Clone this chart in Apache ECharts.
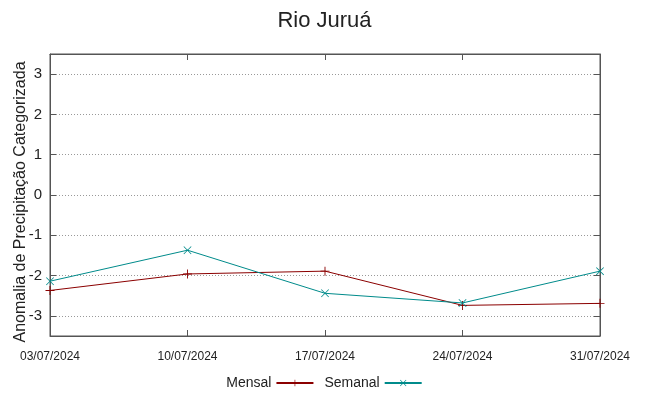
<!DOCTYPE html>
<html>
<head>
<meta charset="utf-8">
<script src="https://cdn.jsdelivr.net/npm/echarts@6/dist/echarts.min.js"></script>
<style>html,body{margin:0;padding:0;background:#fff;}#c{width:649px;height:396px;}</style>
</head>
<body>
<div id="c"></div>
<script>
const titleText = 'Rio Juruá';
const yName = 'Anomalia de Precipitação Categorizada';
const categories = ['03/07/2024', '10/07/2024', '17/07/2024', '24/07/2024', '31/07/2024'];
const mensal = [-2.37, -1.96, -1.89, -2.74, -2.69];
const semanal = [-2.14, -1.37, -2.44, -2.68, -1.89];
const yMin = -3.5;
const yMax = 3.5;

const plusPath = 'path://M4.5,0h1v4.5h4.5v1h-4.5v4.5h-1v-4.5h-4.5v-1h4.5z';
const crossPath = 'path://M0,0.7L0.7,0L5,4.3L9.3,0L10,0.7L5.7,5L10,9.3L9.3,10L5,5.7L0.7,10L0,9.3L4.3,5z';
const FONT = 'Liberation Sans';

const chart = echarts.init(document.getElementById('c'), null, {renderer: 'canvas'});
const yAxisBase = {
  type: 'value', min: yMin, max: yMax, splitNumber: 7,
  axisLine: {show: true, onZero: false, lineStyle: {color: '#555', width: 1}},
  axisTick: {show: true, inside: true, length: 6, lineStyle: {color: '#555'}},
};
chart.setOption({
  animation: false,
  backgroundColor: '#fff',
  textStyle: {fontFamily: FONT},
  title: {text: titleText, left: 'center', top: 5,
    textStyle: {fontFamily: FONT, fontSize: 22, fontWeight: 'normal', color: '#222'}},
  legend: {
    bottom: 1, left: 'center', align: 'right', itemWidth: 37, itemHeight: 8, itemGap: 10,
    textStyle: {fontFamily: FONT, fontSize: 14, color: '#222'},
    data: ['Mensal', 'Semanal']
  },
  grid: {left: 50, right: 49, top: 54, bottom: 60, show: true, borderColor: '#555', borderWidth: 1,
    backgroundColor: 'transparent', containLabel: false, outerBoundsMode: 'none'},
  xAxis: [{
    type: 'category', data: categories, boundaryGap: false,
    axisLine: {show: true, onZero: false, lineStyle: {color: '#555'}},
    axisTick: {show: true, inside: true, length: 6, alignWithLabel: true, lineStyle: {color: '#555'}},
    axisLabel: {fontFamily: FONT, fontSize: 12, color: '#222', margin: 15},
    splitLine: {show: false}
  }, {
    type: 'category', data: categories, boundaryGap: false, position: 'top',
    axisLine: {show: true, onZero: false, lineStyle: {color: '#555'}},
    axisTick: {show: true, inside: true, length: 6, lineStyle: {color: '#555'}},
    axisLabel: {show: false}, splitLine: {show: false}
  }],
  yAxis: [Object.assign({}, yAxisBase, {
    name: yName, nameLocation: 'middle', nameGap: 21, nameRotate: 90, nameMoveOverlap: false,
    nameTextStyle: {fontFamily: FONT, fontSize: 16, color: '#222', padding: [0, 14, 0, 0]},
    axisLabel: {fontFamily: FONT, fontSize: 15, color: '#222', margin: 8,
      formatter: v => Number.isInteger(v) ? String(v) : ''},
    splitLine: {show: true, lineStyle: {color: '#999', type: [1, 2], width: 1}}
  }), Object.assign({}, yAxisBase, {
    position: 'right', axisLabel: {show: false}, splitLine: {show: false}
  })],
  series: [{
    name: 'Mensal', type: 'line', data: mensal, xAxisIndex: 0, yAxisIndex: 0,
    symbol: plusPath, symbolSize: 9, showAllSymbol: true,
    lineStyle: {color: '#8b0000', width: 1},
    itemStyle: {color: '#8b0000'}
  }, {
    name: 'Semanal', type: 'line', data: semanal, xAxisIndex: 0, yAxisIndex: 0,
    symbol: crossPath, symbolSize: 8, showAllSymbol: true,
    lineStyle: {color: '#008b8b', width: 1},
    itemStyle: {color: '#008b8b'}
  }]
});
</script>
</body>
</html>
